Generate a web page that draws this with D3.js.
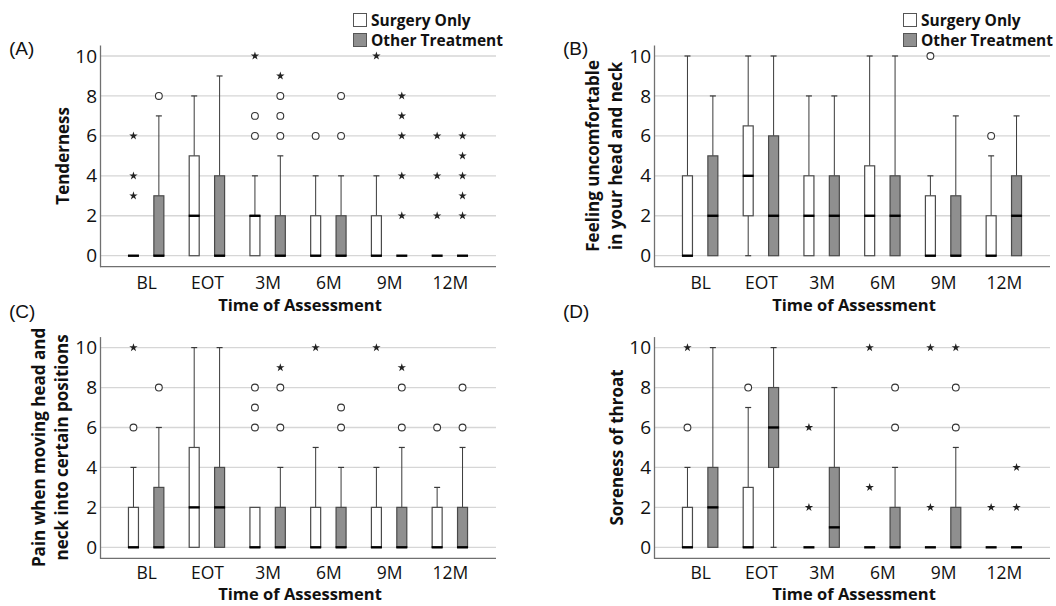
<!DOCTYPE html>
<html>
<head>
<meta charset="utf-8">
<script src="https://cdn.jsdelivr.net/npm/d3@7"></script>
<style>
  body { margin: 0; background: #fff; }
  svg { display: block; }
  .tick text { font-family: "Open Sans", sans-serif; }
</style>
</head>
<body>
<div id="chart"></div>
<script>
// categories and groups
const categories = ["BL", "EOT", "3M", "6M", "9M", "12M"];
const groups = ["Surgery Only", "Other Treatment"];
const yTicks = [0, 2, 4, 6, 8, 10];

// box stats per category: [low whisker, q1, median, q3, high whisker]
const tendernessSurgery = [[0,0,0,0,0],[0,0,2,5,8],[0,0,2,2,4],[0,0,0,2,4],[0,0,0,2,4],[0,0,0,0,0]];
const tendernessOther   = [[0,0,0,3,7],[0,0,0,4,9],[0,0,0,2,5],[0,0,0,2,4],[0,0,0,0,0],[0,0,0,0,0]];
const tendernessSurgeryCircles = [[],[],[6,7],[6],[],[]];
const tendernessSurgeryStars   = [[3,4,6],[],[10],[],[10],[2,4,6]];
const tendernessOtherCircles   = [[8],[],[6,7,8],[6,8],[],[]];
const tendernessOtherStars     = [[],[],[9],[],[2,4,6,7,8],[2,3,4,5,6]];

const discomfortSurgery = [[0,0,0,4,10],[0,2,4,6.5,10],[0,0,2,4,8],[0,0,2,4.5,10],[0,0,0,3,4],[0,0,0,2,5]];
const discomfortOther   = [[0,0,2,5,8],[0,0,2,6,10],[0,0,2,4,8],[0,0,2,4,10],[0,0,0,3,7],[0,0,2,4,7]];
const discomfortSurgeryCircles = [[],[],[],[],[10],[6]];
const discomfortSurgeryStars   = [[],[],[],[],[],[]];
const discomfortOtherCircles   = [[],[],[],[],[],[]];
const discomfortOtherStars     = [[],[],[],[],[],[]];

const painSurgery = [[0,0,0,2,4],[0,0,2,5,10],[0,0,0,2,2],[0,0,0,2,5],[0,0,0,2,4],[0,0,0,2,3]];
const painOther   = [[0,0,0,3,6],[0,0,2,4,10],[0,0,0,2,4],[0,0,0,2,4],[0,0,0,2,5],[0,0,0,2,5]];
const painSurgeryCircles = [[6],[],[6,7,8],[],[],[6]];
const painSurgeryStars   = [[10],[],[],[10],[10],[]];
const painOtherCircles   = [[8],[],[6,8],[6,7],[6,8],[6,8]];
const painOtherStars     = [[],[],[9],[],[9],[]];

const throatSurgery = [[0,0,0,2,4],[0,0,0,3,7],[0,0,0,0,0],[0,0,0,0,0],[0,0,0,0,0],[0,0,0,0,0]];
const throatOther   = [[0,0,2,4,10],[0,4,6,8,10],[0,0,1,4,8],[0,0,0,2,4],[0,0,0,2,5],[0,0,0,0,0]];
const throatSurgeryCircles = [[6],[8],[],[],[],[]];
const throatSurgeryStars   = [[10],[],[2,6],[3,10],[2,10],[2]];
const throatOtherCircles   = [[],[],[],[6,8],[6,8],[]];
const throatOtherStars     = [[],[],[],[],[10],[2,4]];

const panels = [
    {tag: "(A)", ylabel: ["Tenderness"], col: 0, row: 0, legend: true,
     stats: [tendernessSurgery, tendernessOther],
     circles: [tendernessSurgeryCircles, tendernessOtherCircles],
     stars: [tendernessSurgeryStars, tendernessOtherStars]},
    {tag: "(B)", ylabel: ["Feeling uncomfortable", "in your head and neck"], col: 1, row: 0, legend: true,
     stats: [discomfortSurgery, discomfortOther],
     circles: [discomfortSurgeryCircles, discomfortOtherCircles],
     stars: [discomfortSurgeryStars, discomfortOtherStars]},
    {tag: "(C)", ylabel: ["Pain when moving head and", "neck into certain positions"], col: 0, row: 1, legend: false,
     stats: [painSurgery, painOther],
     circles: [painSurgeryCircles, painOtherCircles],
     stars: [painSurgeryStars, painOtherStars]},
    {tag: "(D)", ylabel: ["Soreness of throat"], col: 1, row: 1, legend: false,
     stats: [throatSurgery, throatOther],
     circles: [throatSurgeryCircles, throatOtherCircles],
     stars: [throatSurgeryStars, throatOtherStars]}
];

const fills = ["#ffffff", "#8f8f8f"];
const font = "'Open Sans', sans-serif";
const tagBaselines = [55, 318];
const tickPads = [9.5, 8];
const titleOffsets = [44.5, 41.5];

const svg = d3.select("#chart").append("svg")
    .attr("width", 1056)
    .attr("height", 606);

panels.forEach(p => {
    // plot frame for this panel
    let left = 100 + p.col * 554,
        right = left + 396,
        bottom = 266.7 + p.row * 291.6,
        top = bottom - 221.7;

    let g = svg.append("g");

    let x = d3.scalePoint()
        .domain(categories)
        .range([left, right])
        .padding(0.76);

    let xGroup = d3.scalePoint()
        .domain(groups)
        .range([-12.7, 12.7]);

    let y = d3.scaleLinear()
        .domain([-0.55, 10.55])
        .range([bottom, top]);

    let boxW = 10;

    // gridlines
    g.append("g")
        .selectAll("line")
        .data(yTicks)
        .enter().append("line")
        .attr("x1", left)
        .attr("x2", right)
        .attr("y1", d => y(d))
        .attr("y2", d => y(d))
        .attr("stroke", "#d6d6d6")
        .attr("stroke-width", 1.3);

    // y axis
    let yAxis = d3.axisLeft(y).tickValues(yTicks).tickSize(0).tickPadding(3);
    let yAxisGroup = g.append("g")
        .attr("transform", `translate(${left}, 0)`)
        .call(yAxis);
    yAxisGroup.select(".domain").attr("stroke", "#707070").attr("stroke-width", 1.3);
    yAxisGroup.selectAll("text")
        .attr("font-size", "19px")
        .attr("fill", "#111");

    // x axis
    let xAxis = d3.axisBottom(x).tickSize(0).tickPadding(tickPads[p.row]);
    let xAxisGroup = g.append("g")
        .attr("transform", `translate(0, ${bottom})`)
        .call(xAxis);
    xAxisGroup.select(".domain")
        .attr("d", `M${left},0H${right}`)
        .attr("stroke", "#707070").attr("stroke-width", 1.3);
    xAxisGroup.selectAll("text")
        .attr("font-size", "17.5px")
        .attr("fill", "#111");

    // boxes
    groups.forEach((grp, gi) => {
        let boxes = p.stats[gi].map((s, i) => ({cat: categories[i], s: s}));
        let bg = g.append("g");

        boxes.forEach(b => {
            let cx = x(b.cat) + xGroup(grp);
            let [lo, q1, med, q3, hi] = b.s;

            // upper whisker
            if (hi > q3) {
                bg.append("line")
                    .attr("x1", cx).attr("x2", cx)
                    .attr("y1", y(q3)).attr("y2", y(hi))
                    .attr("stroke", "#3a3a3a").attr("stroke-width", 1);
                bg.append("line")
                    .attr("x1", cx - 3).attr("x2", cx + 3)
                    .attr("y1", y(hi)).attr("y2", y(hi))
                    .attr("stroke", "#3a3a3a").attr("stroke-width", 1.2);
            }
            // lower whisker
            if (lo < q1) {
                bg.append("line")
                    .attr("x1", cx).attr("x2", cx)
                    .attr("y1", y(q1)).attr("y2", y(lo))
                    .attr("stroke", "#3a3a3a").attr("stroke-width", 1);
                bg.append("line")
                    .attr("x1", cx - 3).attr("x2", cx + 3)
                    .attr("y1", y(lo)).attr("y2", y(lo))
                    .attr("stroke", "#3a3a3a").attr("stroke-width", 1.2);
            }
            // box
            if (q3 > q1) {
                bg.append("rect")
                    .attr("x", cx - boxW / 2)
                    .attr("y", y(q3))
                    .attr("width", boxW)
                    .attr("height", y(q1) - y(q3))
                    .attr("fill", fills[gi])
                    .attr("stroke", "#4a4a4a")
                    .attr("stroke-width", 1.2);
            }
            // median
            bg.append("line")
                .attr("x1", cx - boxW / 2 - 0.5).attr("x2", cx + boxW / 2 + 0.5)
                .attr("y1", y(med)).attr("y2", y(med))
                .attr("stroke", "#000")
                .attr("stroke-width", 2.4);
        });

        // circle outliers
        let circ = [];
        p.circles[gi].forEach((vals, i) => vals.forEach(v => circ.push({cat: categories[i], v: v})));
        bg.selectAll("circle")
            .data(circ)
            .enter().append("circle")
            .attr("cx", d => x(d.cat) + xGroup(grp))
            .attr("cy", d => y(d.v))
            .attr("r", 3.4)
            .attr("fill", "#fff")
            .attr("stroke", "#333")
            .attr("stroke-width", 1.1);

        // star outliers
        let st = [];
        p.stars[gi].forEach((vals, i) => vals.forEach(v => st.push({cat: categories[i], v: v})));
        bg.selectAll("path.star")
            .data(st)
            .enter().append("path")
            .attr("class", "star")
            .attr("d", d3.symbol().type(d3.symbolStar).size(22))
            .attr("transform", d => `translate(${x(d.cat) + xGroup(grp)}, ${y(d.v)})`)
            .attr("fill", "#222");
    });

    // axis titles
    g.append("text")
        .attr("x", (x(categories[0]) + x(categories[5])) / 2 + 2)
        .attr("y", bottom + titleOffsets[p.row])
        .attr("text-anchor", "middle")
        .attr("font-family", font)
        .attr("font-weight", "bold")
        .attr("font-size", "16.5px")
        .attr("fill", "#111")
        .text("Time of Assessment");

    let ymid = (top + bottom) / 2;
    let offsets = p.ylabel.length === 1 ? [-31] : [-55, -32];
    p.ylabel.forEach((line, li) => {
        g.append("text")
            .attr("transform", `translate(${left + offsets[li]}, ${ymid}) rotate(-90)`)
            .attr("text-anchor", "middle")
            .attr("font-family", font)
            .attr("font-weight", "bold")
            .attr("font-size", "17px")
            .attr("fill", "#111")
            .text(line);
    });

    // panel tag
    g.append("text")
        .attr("x", left - 91)
        .attr("y", tagBaselines[p.row])
        .attr("font-family", "'Liberation Sans', Arial, sans-serif")
        .attr("font-size", "19px")
        .attr("fill", "#111")
        .text(p.tag);

    // legend
    if (p.legend) {
        let lx = left + (p.col ? 249 : 253);
        let lg = g.append("g").attr("transform", `translate(${lx}, 13)`);
        groups.forEach((grp, gi) => {
            lg.append("rect")
                .attr("x", 0.5)
                .attr("y", gi * 20 + 0.5)
                .attr("width", 13)
                .attr("height", 13)
                .attr("fill", fills[gi])
                .attr("stroke", "#555")
                .attr("stroke-width", 1);
            lg.append("text")
                .attr("x", 18)
                .attr("y", gi * 20 + 13)
                .attr("font-family", font)
                .attr("font-weight", "bold")
                .attr("font-size", "15.5px")
                .attr("fill", "#111")
                .text(grp);
        });
    }
});
</script>
</body>
</html>
